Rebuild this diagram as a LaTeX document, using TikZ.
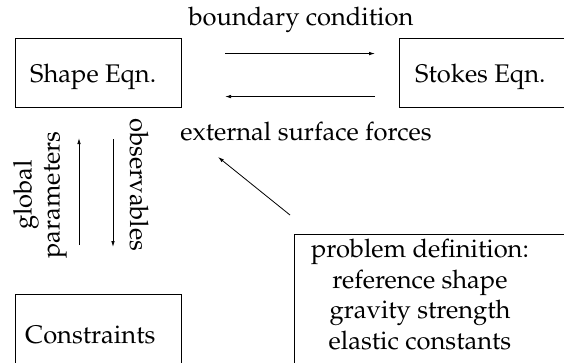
\documentclass[tikz,border=0pt]{standalone}
\usepackage[T1]{fontenc}
\usepackage{mathpazo}
\usetikzlibrary{arrows.meta}
\begin{document}
\begin{tikzpicture}[x=1pt,y=-1pt,
  font=\fontsize{25.5}{28}\selectfont,
  box/.style={draw,line width=1.1pt,rectangle,inner sep=0pt,anchor=north west},
  lbl/.style={inner sep=0pt,anchor=base},
  conn/.style={line width=0.8pt,-{Latex[length=6pt,width=3.6pt]}}]
\useasboundingbox (0,0) rectangle (564,362);
\clip (0,0) rectangle (564,362);
% boxes
\node[box,minimum width=166pt,minimum height=69pt] (shape) at (15,38) {};
\node[box,minimum width=220pt,minimum height=69pt] (stokes) at (399,38) {};
\node[box,minimum width=166pt,minimum height=100pt] (constr) at (15,294) {};
\node[box,minimum width=300pt,minimum height=160pt] (prob) at (294,234) {};
% texts
\node[lbl,anchor=base west] (tshape) at (30,82) {Shape Eqn.};
\node[lbl,anchor=base west] (tstokes) at (415,82) {Stokes Eqn.};
\node[lbl,anchor=base west] (tconstr) at (25,343) {Constraints};
\node[lbl] (tbc) at (301,25) {boundary condition};
\node[lbl] (tesf) at (306,140) {external surface forces};
\node[lbl] (tprobA) at (420,257) {problem definition:};
\node[lbl] (tprobB) at (420,288) {reference shape};
\node[lbl] (tprobC) at (420,318.5) {gravity strength};
\node[lbl] (tprobD) at (420,349) {elastic constants};
\node[inner sep=0pt,align=center,rotate=90] (tglob) at (40,195) {global\\parameters};
\node[lbl,rotate=-90] (tobs) at (130,185) {observables};
% connectors
\draw[conn,shorten <=43pt,shorten >=24pt] ([yshift=19.5pt]shape.east) -- ([yshift=19.5pt]stokes.west);
\draw[conn,shorten <=24pt,shorten >=43pt] ([yshift=-23.5pt]stokes.west) -- ([yshift=-23.5pt]shape.east);
\draw[conn,shorten <=49pt,shorten >=30pt] ([xshift=64pt]constr.north west) -- ([xshift=64pt]shape.south west);
\draw[conn,shorten <=31pt,shorten >=47pt] ([xshift=98pt]shape.south west) -- ([xshift=98pt]constr.north west);
\coordinate (dtail) at (290,215);
\coordinate (dhead) at (218,157);
\draw[conn] (dtail) -- (dhead);
\end{tikzpicture}
\end{document}
